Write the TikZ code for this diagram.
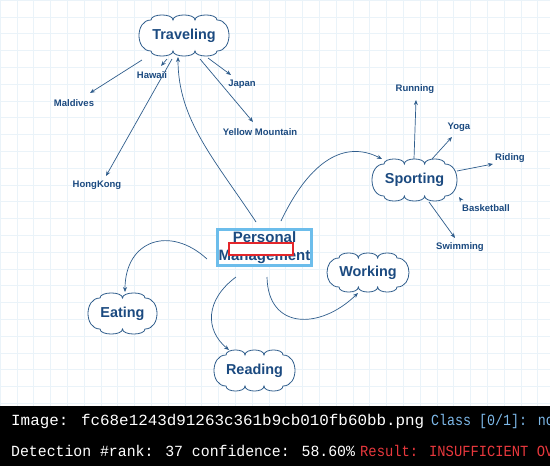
\documentclass[tikz,border=0pt]{standalone}
\usepackage{fontspec}
\setmainfont{Liberation Sans}
\newfontfamily\monof{Liberation Mono}
\usetikzlibrary{arrows.meta}
\definecolor{gridc}{HTML}{EAF3F9}
\definecolor{txtblue}{HTML}{1B4A80}
\definecolor{linec}{HTML}{2F5D8C}
\definecolor{boxblue}{HTML}{6CBDEB}
\definecolor{redc}{HTML}{E3262B}
\definecolor{classc}{HTML}{7DB8E8}
\definecolor{resc}{HTML}{E8383D}
\tikzset{
  cloudline/.style={draw=linec, fill=white, line width=0.8pt},
  cloudtext/.style={text=txtblue, font=\fontsize{14.4}{16}\selectfont\bfseries, inner sep=0pt},
  leaf/.style={text=txtblue, font=\fontsize{9.5}{11}\selectfont\bfseries, inner sep=1pt},
  conn/.style={draw=linec, line width=0.7pt, -{Stealth[length=5pt,width=4pt]}},
  pmbox/.style={draw=boxblue, line width=3pt, fill=white, minimum width=94pt, minimum height=36pt,
    align=center, text=txtblue, font=\fontsize{15}{18}\selectfont\bfseries, inner sep=0pt},
  barwhite/.style={text=white, font=\monof\fontsize{15.5}{16}\selectfont, anchor=west, inner sep=0pt},
}
\newcommand\mmcloud[7]{%
  \pgfmathsetmacro\cA{#4/2}%
  \pgfmathsetmacro\cB{#5/2}%
  \pgfmathsetmacro\cSeg{(#4-24)/#6}%
  \pgfmathsetmacro\cH{#5-10}%
  \filldraw[cloudline] ({#2-\cA+12},{#3-\cB+5})
    \foreach \k in {1,...,#6} { .. controls +(0,-6.7) and +(0,-6.7) .. ++(\cSeg,0) }
    .. controls +(16,0) and +(16,0) .. ++(0,\cH)
    \foreach \k in {1,...,#6} { .. controls +(0,6.7) and +(0,6.7) .. ++(-\cSeg,0) }
    .. controls +(-16,0) and +(-16,0) .. ({#2-\cA+12},{#3-\cB+5}) -- cycle;
  \node[cloudtext, minimum width=#4pt, minimum height=#5pt] (#1) at (#2,#3) {#7};
}
\begin{document}
\begin{tikzpicture}[x=1pt,y=-1pt]
\useasboundingbox (0,0) rectangle (550,466);
\clip (0,0) rectangle (550,466);
\fill[white] (0,0) rectangle (550,406);
\draw[gridc, line width=0.5pt] (0,0) grid[step=16.8pt] (550,406);

% clouds
\mmcloud{trav}{184}{35.5}{90}{41}{3}{Traveling}
\mmcloud{sport}{414.5}{180}{85}{42}{3}{Sporting}
\mmcloud{work}{368}{272.5}{82}{39}{3}{Working}
\mmcloud{eat}{122.5}{313.5}{69}{41}{2}{Eating}
\mmcloud{read}{254.5}{370.5}{81}{41}{3}{Reading}

% central node
\node[pmbox] (pm) at (264.5,247.5) {Personal\\Management};
\draw[redc, line width=2.5pt, fill=white] (229,243) rectangle (293,255);

% leaf labels
\node[leaf] (hawaii) at (152,75) {Hawaii};
\node[leaf] (mald) at (74,103) {Maldives};
\node[leaf] (japan) at (242,84) {Japan};
\node[leaf] (yellow) at (260,132) {Yellow Mountain};
\node[leaf] (hk) at (97,185) {HongKong};
\node[leaf] (run) at (415,89) {Running};
\node[leaf] (yoga) at (459,127) {Yoga};
\node[leaf] (ride) at (510,158) {Riding};
\node[leaf] (bask) at (486,208) {Basketball};
\node[leaf] (swim) at (460,247) {Swimming};

% traveling connectors
\draw[conn] ([shift={(-42,24.5)}]trav.center) -- ([shift={(16,-10)}]mald.center);
\draw[conn] ([shift={(-17,23.5)}]trav.center) -- ([shift={(9,-9)}]hawaii.center);
\draw[conn] ([shift={(-12,23.5)}]trav.center) -- ([shift={(9,-9)}]hk.center);
\draw[conn] ([shift={(24,22.5)}]trav.center) -- ([shift={(-11,-9)}]japan.center);
\draw[conn] ([shift={(16,23.5)}]trav.center) -- ([shift={(-7,-10)}]yellow.center);

% sporting connectors
\draw[conn] ([shift={(-0.5,-21)}]sport.center) -- ([shift={(1,11)}]run.center);
\draw[conn] ([shift={(17.5,-21)}]sport.center) -- ([shift={(-7,10)}]yoga.center);
\draw[conn] ([shift={(42.5,-9)}]sport.center) -- ([shift={(-17,6)}]ride.center);
\coordinate (bkS) at ([shift={(-25,-8)}]bask.center);
\coordinate (bkE) at ([shift={(-27,-11)}]bask.center);
\draw[conn] (bkS) -- (bkE);
\draw[conn] ([shift={(14.5,22)}]sport.center) -- ([shift={(-5,-9)}]swim.center);

% central curved connectors
\draw[conn] ([shift={(-8.5,-25.5)}]pm.center) .. controls +(-41,-62) and +(0,63) .. ([shift={(-6,21.5)}]trav.center);
\draw[conn] ([shift={(16.5,-26.5)}]pm.center) .. controls +(29,-61) and +(-37,-19) .. ([shift={(-32.5,-21)}]sport.center);
\draw[conn] ([shift={(-57.5,11.5)}]pm.center) .. controls +(-37,-34) and +(0,-52) .. ([shift={(2.5,-21.5)}]eat.center);
\draw[conn] ([shift={(-28.5,29.5)}]pm.center) .. controls +(-31,23) and +(-24,-20) .. ([shift={(-25.5,-20.5)}]read.center);
\draw[conn] ([shift={(2.5,29.5)}]pm.center) .. controls +(1,53) and +(-38,37) .. ([shift={(-10,20.5)}]work.center);

% bottom bar
\fill[black] (0,406) rectangle (550,466);
\node[barwhite] (l1a) at (11,421) {\scalebox{1.025}[1]{Image: fc68e1243d91263c361b9cb010fb60bb.png}};
\node[barwhite, text=classc] (l1b) at (431,421) {\scalebox{0.86}[1]{Class [0/1]: no}};
\node[barwhite] (l2a) at (11,451) {\scalebox{0.956}[1]{Detection \#rank: 37 confidence: 58.60\%}};
\node[barwhite, text=resc] (l2b) at (360,451) {\scalebox{0.89}[1]{Result: INSUFFICIENT OV}};
\end{tikzpicture}
\end{document}
